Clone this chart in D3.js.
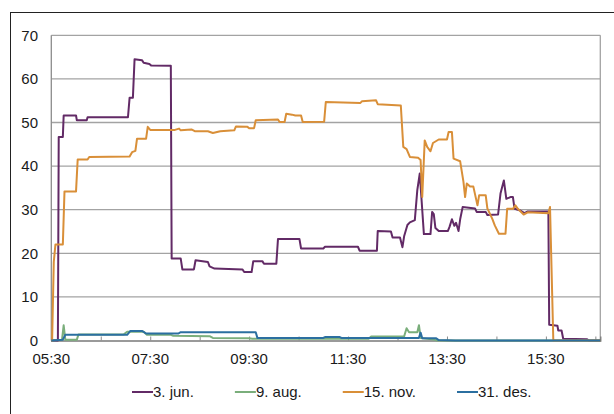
<!DOCTYPE html>
<html>
<head>
<meta charset="utf-8">
<script src="https://cdn.jsdelivr.net/npm/d3@7"></script>
<style>
  body { margin: 0; background: #fff; }
  text { font-family: "Liberation Sans", Arial, Helvetica, sans-serif; fill: #1a1a1a; }
</style>
</head>
<body>
<svg id="chart"></svg>
<script>

// series names and colours (legend order)
var seriesNames = ["3. jun.", "9. aug.", "15. nov.", "31. des."];
var seriesColors = ["#622a66", "#7aae7b", "#d98f38", "#2b6fa0"];

// y ticks and x tick labels
var yTicks = [0, 10, 20, 30, 40, 50, 60, 70];
var xLabels = ["05:30", "07:30", "09:30", "11:30", "13:30", "15:30"];
var xMinor = ["05:30", "06:30", "07:30", "08:30", "09:30", "10:30", "11:30",
  "12:30", "13:30", "14:30", "15:30", "16:30"];

// 3. jun.
var junTimes = ["05:30", "05:38", "05:39", "05:44", "05:45", "06:00", "06:01", "06:13", "06:14", "07:03",
  "07:05", "07:09", "07:11", "07:20", "07:22", "07:29", "07:31", "07:55", "07:56", "08:07",
  "08:09", "08:23", "08:25", "08:40", "08:42", "08:48", "09:22", "09:24", "09:33", "09:35",
  "09:46", "09:48", "10:03", "10:05", "10:31", "10:33", "11:00", "11:02", "11:42", "11:44",
  "12:05", "12:06", "12:22", "12:24", "12:33", "12:36", "12:38", "12:42", "12:45", "12:51",
  "12:54", "12:57", "13:02", "13:10", "13:12", "13:14", "13:16", "13:20", "13:31", "13:33",
  "13:36", "13:39", "13:41", "13:44", "13:46", "13:49", "14:04", "14:06", "14:17", "14:19",
  "14:32", "14:35", "14:39", "14:42", "14:47", "14:50", "14:52", "14:59", "15:04", "15:08",
  "15:33", "15:34", "15:44", "15:45", "15:49", "15:51", "16:20", "16:22", "16:36"];
var junValues = [0, 0, 46.7, 46.7, 51.6, 51.6, 50.5, 50.5, 51.2, 51.2,
  55.7, 55.7, 64.5, 64.3, 63.7, 63.4, 63.1, 63.0, 18.8, 18.8,
  16.3, 16.3, 18.4, 18.0, 17.0, 16.5, 16.3, 15.7, 15.7, 18.2,
  18.2, 17.6, 17.6, 23.3, 23.3, 21.1, 21.1, 21.5, 21.5, 20.6,
  20.6, 25.1, 25.0, 23.6, 23.6, 21.4, 23.9, 26.5, 27.1, 27.6,
  34.5, 38.3, 24.4, 24.4, 29.5, 29.0, 25.8, 25.1, 25.1, 26.0,
  27.8, 26.3, 27.0, 25.1, 27.8, 30.6, 30.3, 29.5, 29.5, 28.8,
  28.9, 33.8, 36.7, 32.5, 32.9, 32.9, 30.2, 29.8, 29.2, 29.6,
  29.6, 3.6, 3.4, 2.3, 2.3, 0.4, 0.3, 0, 0];

// 9. aug.
var augTimes = ["05:30", "05:43", "05:45", "05:47", "06:01", "06:03", "06:58", "07:02", "07:22", "07:26",
  "07:55", "07:58", "08:42", "08:46", "09:30", "09:34", "11:55", "11:58", "12:38", "12:41",
  "12:44", "12:54", "12:56", "12:58", "13:14", "13:18", "16:36"];
var augValues = [0, 0.2, 3.5, 0.2, 0.2, 1.4, 1.4, 2.0, 2.0, 1.3,
  1.3, 1.1, 1.0, 0.6, 0.5, 0.4, 0.4, 0.9, 0.9, 2.8,
  1.9, 1.9, 3.5, 0.6, 0.2, 0, 0];

// 15. nov.
var novTimes = ["05:30", "05:31", "05:33", "05:35", "05:44", "05:46", "06:00", "06:02", "06:14", "06:16",
  "07:05", "07:08", "07:12", "07:14", "07:25", "07:27", "07:30", "08:00", "08:05", "08:07",
  "08:20", "08:24", "08:40", "08:46", "08:55", "09:12", "09:14", "09:28", "09:30", "09:36",
  "09:38", "10:05", "10:07", "10:13", "10:15", "10:22", "10:26", "10:33", "10:35", "11:01",
  "11:03", "11:45", "11:47", "12:04", "12:06", "12:34", "12:37", "12:41", "12:45", "12:55",
  "12:58", "13:00", "13:03", "13:06", "13:10", "13:13", "13:20", "13:30", "13:32", "13:36",
  "13:38", "13:46", "13:50", "13:52", "13:54", "13:58", "14:02", "14:07", "14:09", "14:17",
  "14:19", "14:25", "14:28", "14:33", "14:41", "14:43", "14:50", "14:53", "14:56", "15:03",
  "15:08", "15:33", "15:35", "15:39", "16:36"];
var novValues = [0, 0, 18, 22, 22, 34.2, 34.2, 41.5, 41.5, 42.1,
  42.2, 43.2, 43.5, 46.3, 46.3, 49.0, 48.3, 48.3, 48.6, 48.2,
  48.4, 48.0, 48.0, 47.6, 48.0, 48.2, 49.1, 49.0, 48.7, 48.7,
  50.5, 50.7, 50.1, 50.1, 52.0, 51.8, 51.6, 51.6, 50.1, 50.2,
  54.7, 54.5, 54.9, 55.1, 54.2, 53.9, 44.4, 43.9, 42.1, 41.9,
  41.4, 32.9, 45.9, 44.4, 43.4, 45.3, 46.1, 46.1, 47.8, 47.8,
  41.7, 41.1, 36.4, 32.9, 36.0, 35.3, 35.3, 31.0, 33.3, 33.3,
  30.3, 27.9, 26.4, 24.5, 24.5, 30.2, 30.2, 31.0, 30.2, 28.9,
  29.4, 29.2, 30.6, 0, 0];

// 31. des.
var desTimes = ["05:30", "05:44", "05:47", "07:02", "07:06", "07:20", "07:25", "08:04", "08:07", "09:38",
  "09:40", "11:00", "11:02", "11:20", "11:22", "12:56", "12:58", "13:00", "13:17", "13:20",
  "13:40", "16:36"];
var desValues = [0, 0.2, 1.3, 1.3, 2.2, 2.2, 1.6, 1.6, 1.9, 1.9,
  0.6, 0.6, 0.8, 0.8, 0.6, 0.6, 1.8, 0.5, 0.5, 0.1,
  0, 0];

var width = 614;
var height = 414;
var margin = { top: 35.3, right: 13.7, bottom: 73.5, left: 51.3 };

var parseTime = d3.timeParse("%H:%M");

var svg = d3.select("#chart")
  .attr("width", width)
  .attr("height", height);

// outer chart frame (top and left edges visible)
svg.append("rect")
  .attr("x", 10.5)
  .attr("y", 12.5)
  .attr("width", 640)
  .attr("height", 440)
  .attr("fill", "none")
  .attr("stroke", "#222")
  .attr("stroke-width", 1);

var x = d3.scaleTime()
  .domain([parseTime("05:30"), parseTime("16:36")])
  .range([margin.left, width - margin.right]);

var y = d3.scaleLinear()
  .domain([0, 70])
  .range([height - margin.bottom, margin.top]);

// gridlines
svg.append("g")
  .selectAll("line")
  .data(yTicks.slice(1))
  .enter()
  .append("line")
  .attr("x1", margin.left)
  .attr("x2", width - margin.right)
  .attr("y1", function (d) { return y(d); })
  .attr("y2", function (d) { return y(d); })
  .attr("stroke", "#a3a3a3")
  .attr("stroke-width", 1.3);

// plot border left / right
svg.append("line")
  .attr("x1", margin.left).attr("x2", margin.left)
  .attr("y1", y(70)).attr("y2", y(0))
  .attr("stroke", "#8c8c8c").attr("stroke-width", 1.3);
svg.append("line")
  .attr("x1", width - margin.right).attr("x2", width - margin.right)
  .attr("y1", y(70)).attr("y2", y(0))
  .attr("stroke", "#a3a3a3").attr("stroke-width", 1.3);

// Y axis labels
svg.append("g")
  .selectAll("text")
  .data(yTicks)
  .enter()
  .append("text")
  .attr("x", 38)
  .attr("y", function (d) { return y(d); })
  .attr("dy", "0.35em")
  .attr("text-anchor", "end")
  .style("font-size", "15px")
  .text(function (d) { return d; });

// X axis: hourly inner ticks, labels every two hours
var xAxis = d3.axisBottom(x)
  .tickValues(xMinor.map(parseTime))
  .tickSize(-4)
  .tickFormat("");
svg.append("g")
  .attr("transform", "translate(0," + y(0) + ")")
  .call(xAxis)
  .call(function (g) {
    g.select(".domain").attr("stroke", "#7a7a7a").attr("stroke-width", 1.3);
    g.selectAll(".tick line").attr("stroke", "#8c8c8c");
  });

svg.append("g")
  .selectAll("text")
  .data(xLabels)
  .enter()
  .append("text")
  .attr("x", function (d) { return x(parseTime(d)); })
  .attr("y", 364)
  .attr("text-anchor", "middle")
  .style("font-size", "15px")
  .text(function (d) { return d; });

// series lines
var series = [
  { name: seriesNames[0], color: seriesColors[0], times: junTimes, values: junValues },
  { name: seriesNames[1], color: seriesColors[1], times: augTimes, values: augValues },
  { name: seriesNames[2], color: seriesColors[2], times: novTimes, values: novValues },
  { name: seriesNames[3], color: seriesColors[3], times: desTimes, values: desValues }
];

var line = d3.line()
  .x(function (d) { return x(d.t); })
  .y(function (d) { return y(d.v); });

series.forEach(function (s) {
  var pts = s.times.map(function (t, i) { return { t: parseTime(t), v: s.values[i] }; });
  svg.append("path")
    .datum(pts)
    .attr("d", line)
    .attr("fill", "none")
    .attr("stroke", s.color)
    .attr("stroke-width", 2)
    .attr("stroke-linejoin", "round");
});

// legend
var legend = svg.append("g").attr("transform", "translate(132,392)");
var lx = 0;
series.forEach(function (s) {
  var item = legend.append("g").attr("transform", "translate(" + lx + ",0)");
  item.append("line")
    .attr("x1", 0).attr("x2", 21)
    .attr("y1", 0).attr("y2", 0)
    .attr("stroke", s.color)
    .attr("stroke-width", 2);
  var t = item.append("text")
    .attr("x", 21)
    .attr("dy", "0.35em")
    .style("font-size", "15px")
    .text(s.name);
  lx += 21 + t.node().getComputedTextLength() + 41;
});

</script>
</body>
</html>
